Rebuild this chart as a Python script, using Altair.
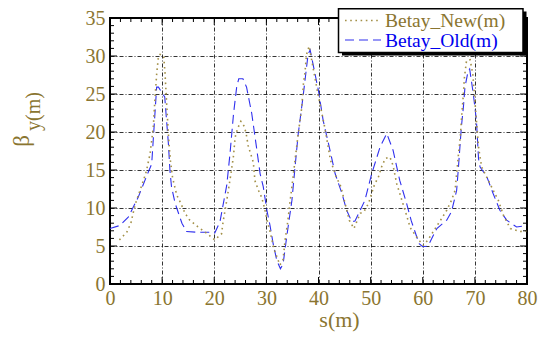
import altair as alt
import pandas as pd

# ---- data ----
s_new = [1.8, 3.2, 4.0, 4.8, 6.4, 7.0, 7.7, 8.3, 8.6, 8.95, 9.3, 9.6, 10.3, 10.55, 11.0, 11.3, 11.6,
         12.0, 12.8, 13.6, 14.4, 15.3, 16.9, 18.5, 20.1, 21.4, 21.7, 22.4, 23.2, 23.7, 24.0, 24.5,
         25.1, 25.8, 26.2, 26.5, 27.5, 27.8, 28.5, 29.1, 29.6, 30.3, 30.7, 31.5, 32.6, 33.2, 33.6,
         34.1, 34.5, 34.9, 35.5, 36.1, 36.8, 37.1, 37.4, 37.7, 38.2, 39.7, 40.4, 41.2, 42.3, 43.4,
         44.3, 45.1, 45.9, 46.8, 48.0, 48.7, 49.6, 50.7, 51.5, 52.1, 52.8, 53.7, 54.3, 55.0, 55.6,
         56.6, 57.6, 59.0, 60.1, 61.0, 62.4, 63.6, 64.6, 65.5, 66.2, 66.5, 66.8, 67.2, 67.5, 67.8,
         68.0, 68.4, 69.1, 69.6, 70.7, 71.3, 72.6, 74.5, 75.5, 76.8, 78.7, 80.0]
b_new = [5.8, 6.8, 8.0, 10.4, 13.6, 14.9, 17.2, 20.6, 24.1, 27.6, 30.0, 30.2, 30.0, 27.8, 22.1, 18.6, 16.2,
         14.0, 11.7, 10.6, 9.3, 8.4, 7.5, 6.7, 5.8, 6.6, 8.2, 11.0, 14.5, 16.9, 19.3, 20.5,
         21.4, 20.7, 19.5, 18.2, 16.0, 13.6, 12.3, 11.4, 10.1, 7.9, 6.9, 4.5, 2.5, 3.2, 5.8,
         8.2, 10.6, 12.8, 16.3, 19.7, 23.3, 26.3, 27.8, 30.2, 31.3, 25.7, 23.3, 20.6, 16.3, 14.1,
         12.8, 10.6, 8.4, 7.3, 9.3, 9.5, 10.6, 13.0, 14.1, 15.4, 16.5, 16.7, 15.6, 13.2, 11.9,
         9.7, 7.4, 6.0, 5.1, 5.8, 7.3, 8.6, 9.7, 11.0, 12.3, 14.5, 16.7, 19.3, 22.4, 25.0,
         27.2, 29.4, 29.5, 27.6, 18.0, 15.4, 13.6, 11.0, 9.0, 7.3, 6.9, 7.0]

s_old = [0.0, 1.9, 3.5, 5.4, 7.2, 8.0, 8.95, 9.3, 10.5, 11.2, 11.5, 11.8, 12.5, 13.8, 14.7, 17.0,
         19.8, 20.1, 21.1, 21.5, 22.4, 23.0, 23.7, 24.3, 24.7, 25.5, 26.2, 27.2, 28.1, 28.8, 29.4,
         30.1, 30.7, 31.3, 32.0, 32.7, 33.2, 33.9, 34.9, 35.5, 36.1, 37.1, 38.0, 38.4, 40.0, 40.9,
         42.2, 43.2, 44.5, 45.4, 46.4, 47.0, 48.0, 48.9, 50.2, 51.8, 53.1, 54.3, 55.6, 56.9, 57.8,
         59.3, 60.0, 61.0, 62.7, 64.6, 65.5, 66.5, 66.8, 67.4, 67.8, 68.1, 68.7, 69.0, 69.7, 70.3,
         70.7, 71.0, 72.3, 73.5, 74.8, 76.1, 78.0, 80.0]
b_old = [7.3, 7.7, 8.8, 11.4, 14.5, 15.8, 25.9, 25.9, 24.6, 18.5, 14.9, 12.8, 10.6, 8.0, 6.9, 6.8,
         6.8, 6.7, 8.2, 9.7, 13.0, 17.0, 22.4, 25.9, 27.0, 27.0, 25.9, 22.4, 18.0, 14.5, 12.8,
         9.7, 7.7, 5.3, 3.1, 2.0, 2.6, 6.2, 11.0, 15.4, 19.7, 25.0, 30.2, 30.8, 25.4, 21.5,
         17.6, 14.5, 11.9, 9.7, 8.2, 8.3, 9.7, 11.0, 14.5, 18.0, 19.8, 17.6, 13.6, 10.6, 8.3,
         5.3, 4.9, 5.0, 7.3, 8.4, 9.5, 12.3, 14.9, 20.6, 23.3, 25.9, 28.0, 28.3, 25.0, 21.5,
         16.5, 15.4, 14.1, 11.9, 9.7, 8.4, 7.5, 7.7]

x_major = list(range(0, 81, 10))
x_minor = [v for v in range(0, 81, 2) if v % 10]
y_major = list(range(0, 36, 5))
y_minor = [v for v in range(0, 36) if v % 5]
legend_labels = ["Betay_New(m)", "Betay_Old(m)"]
x_title = "s(m)"
y_title_main = "β"
y_title_sub = "y(m)"

# ---- styling ----
W, H = 417, 266
OLIVE = "#8a7530"
NEW_C = "#a39048"
OLD_C = "#3030ee"
FONT = "Liberation Serif"
xs = alt.Scale(domain=[0, 80], nice=False, zero=False)
ys = alt.Scale(domain=[0, 35], nice=False, zero=False)
one = pd.DataFrame({"k": [0]})

df_new = pd.DataFrame({"s": s_new, "b": b_new})
df_old = pd.DataFrame({"s": s_old, "b": b_old})

x_axis = alt.Axis(values=x_major, grid=True, gridDash=[4, 2, 1, 2], gridColor="black",
                  gridWidth=0.8, gridOpacity=1, domain=False, ticks=False,
                  labelFont=FONT, labelFontSize=20, labelColor=OLIVE, labelPadding=4,
                  labelFlush=False, title=x_title, titleFont=FONT, titleFontSize=22,
                  titleFontWeight="normal", titleColor=OLIVE, titleX=229, titleY=42,
                  titleBaseline="alphabetic", titleAlign="center")
y_axis = alt.Axis(values=y_major, grid=True, gridDash=[4, 2, 1, 2], gridColor="black",
                  gridWidth=0.8, gridOpacity=1, domain=False, ticks=False,
                  labelFont=FONT, labelFontSize=20, labelColor=OLIVE, labelPadding=5,
                  labelFlush=False, title=None)

line_old = alt.Chart(df_old).mark_line(color=OLD_C, strokeDash=[9, 5], strokeWidth=1.1).encode(
    x=alt.X("s:Q", scale=xs, axis=x_axis),
    y=alt.Y("b:Q", scale=ys, axis=y_axis),
    order="s:Q",
)
line_new = alt.Chart(df_new).mark_line(color=NEW_C, strokeDash=[1.6, 3.6], strokeWidth=1.6).encode(
    x=alt.X("s:Q", scale=xs, axis=x_axis),
    y=alt.Y("b:Q", scale=ys, axis=y_axis),
    order="s:Q",
)


def xticks(vals, length, top):
    d = pd.DataFrame({"s": vals})
    if top:
        yy, yy2 = alt.value(0), alt.value(length)
    else:
        yy, yy2 = alt.value(H), alt.value(H - length)
    return alt.Chart(d).mark_rule(color="black", strokeWidth=1).encode(
        x=alt.X("s:Q", scale=xs, axis=x_axis), y=yy, y2=yy2)


def yticks(vals, length, right):
    d = pd.DataFrame({"b": vals})
    if right:
        xx, xx2 = alt.value(W), alt.value(W - length)
    else:
        xx, xx2 = alt.value(0), alt.value(length)
    return alt.Chart(d).mark_rule(color="black", strokeWidth=1).encode(
        y=alt.Y("b:Q", scale=ys, axis=y_axis), x=xx, x2=xx2)


tick_layers = [
    xticks(x_minor, 4, False), xticks(x_minor, 4, True),
    xticks(x_major, 7, False), xticks(x_major, 7, True),
    yticks(y_minor, 4, False), yticks(y_minor, 4, True),
    yticks(y_major, 7, False), yticks(y_major, 7, True),
]

# legend box with shadow
shadow = alt.Chart(one).mark_rect(color="black").encode(
    x=alt.value(232), x2=alt.value(416.5), y=alt.value(-6.5), y2=alt.value(37.5))
box = alt.Chart(one).mark_rect(fill="white", stroke="black", strokeWidth=1.5).encode(
    x=alt.value(228.5), x2=alt.value(413), y=alt.value(-9.3), y2=alt.value(34.5))
sym_new = alt.Chart(one).mark_rule(color=NEW_C, strokeDash=[1.6, 3.6], strokeWidth=1.6).encode(
    x=alt.value(235), x2=alt.value(271), y=alt.value(2.5))
sym_old = alt.Chart(one).mark_rule(color=OLD_C, strokeDash=[9, 5], strokeWidth=1.1).encode(
    x=alt.value(235), x2=alt.value(271), y=alt.value(22))
txt_new = alt.Chart(one).mark_text(font=FONT, fontSize=19.5, color=OLIVE, align="left",
                                   baseline="alphabetic").encode(
    x=alt.value(275), y=alt.value(8.5), text=alt.value(legend_labels[0]))
txt_old = alt.Chart(one).mark_text(font=FONT, fontSize=19.5, color="#0000ee", align="left",
                                   baseline="alphabetic").encode(
    x=alt.value(275), y=alt.value(28.5), text=alt.value(legend_labels[1]))

# y-axis title with subscript
yt_main = alt.Chart(one).mark_text(font=FONT, fontSize=23, color=OLIVE, angle=270,
                                   align="center", baseline="middle").encode(
    x=alt.value(-88), y=alt.value(123), text=alt.value(y_title_main))
yt_sub = alt.Chart(one).mark_text(font=FONT, fontSize=20, color=OLIVE, angle=270,
                                  align="center", baseline="middle").encode(
    x=alt.value(-76), y=alt.value(93.5), text=alt.value(y_title_sub))

chart = alt.layer(
    line_old, line_new, *tick_layers, shadow, box, sym_new, sym_old, txt_new, txt_old,
    yt_main, yt_sub,
).properties(
    width=W, height=H,
    autosize=alt.AutoSizeParams(type="none"),
    padding={"left": 102, "top": 10, "right": 15, "bottom": 52},
    background="white",
).configure_view(stroke="black", strokeWidth=2)

chart.save("out.html", embed_options={"renderer": "svg", "actions": False})
